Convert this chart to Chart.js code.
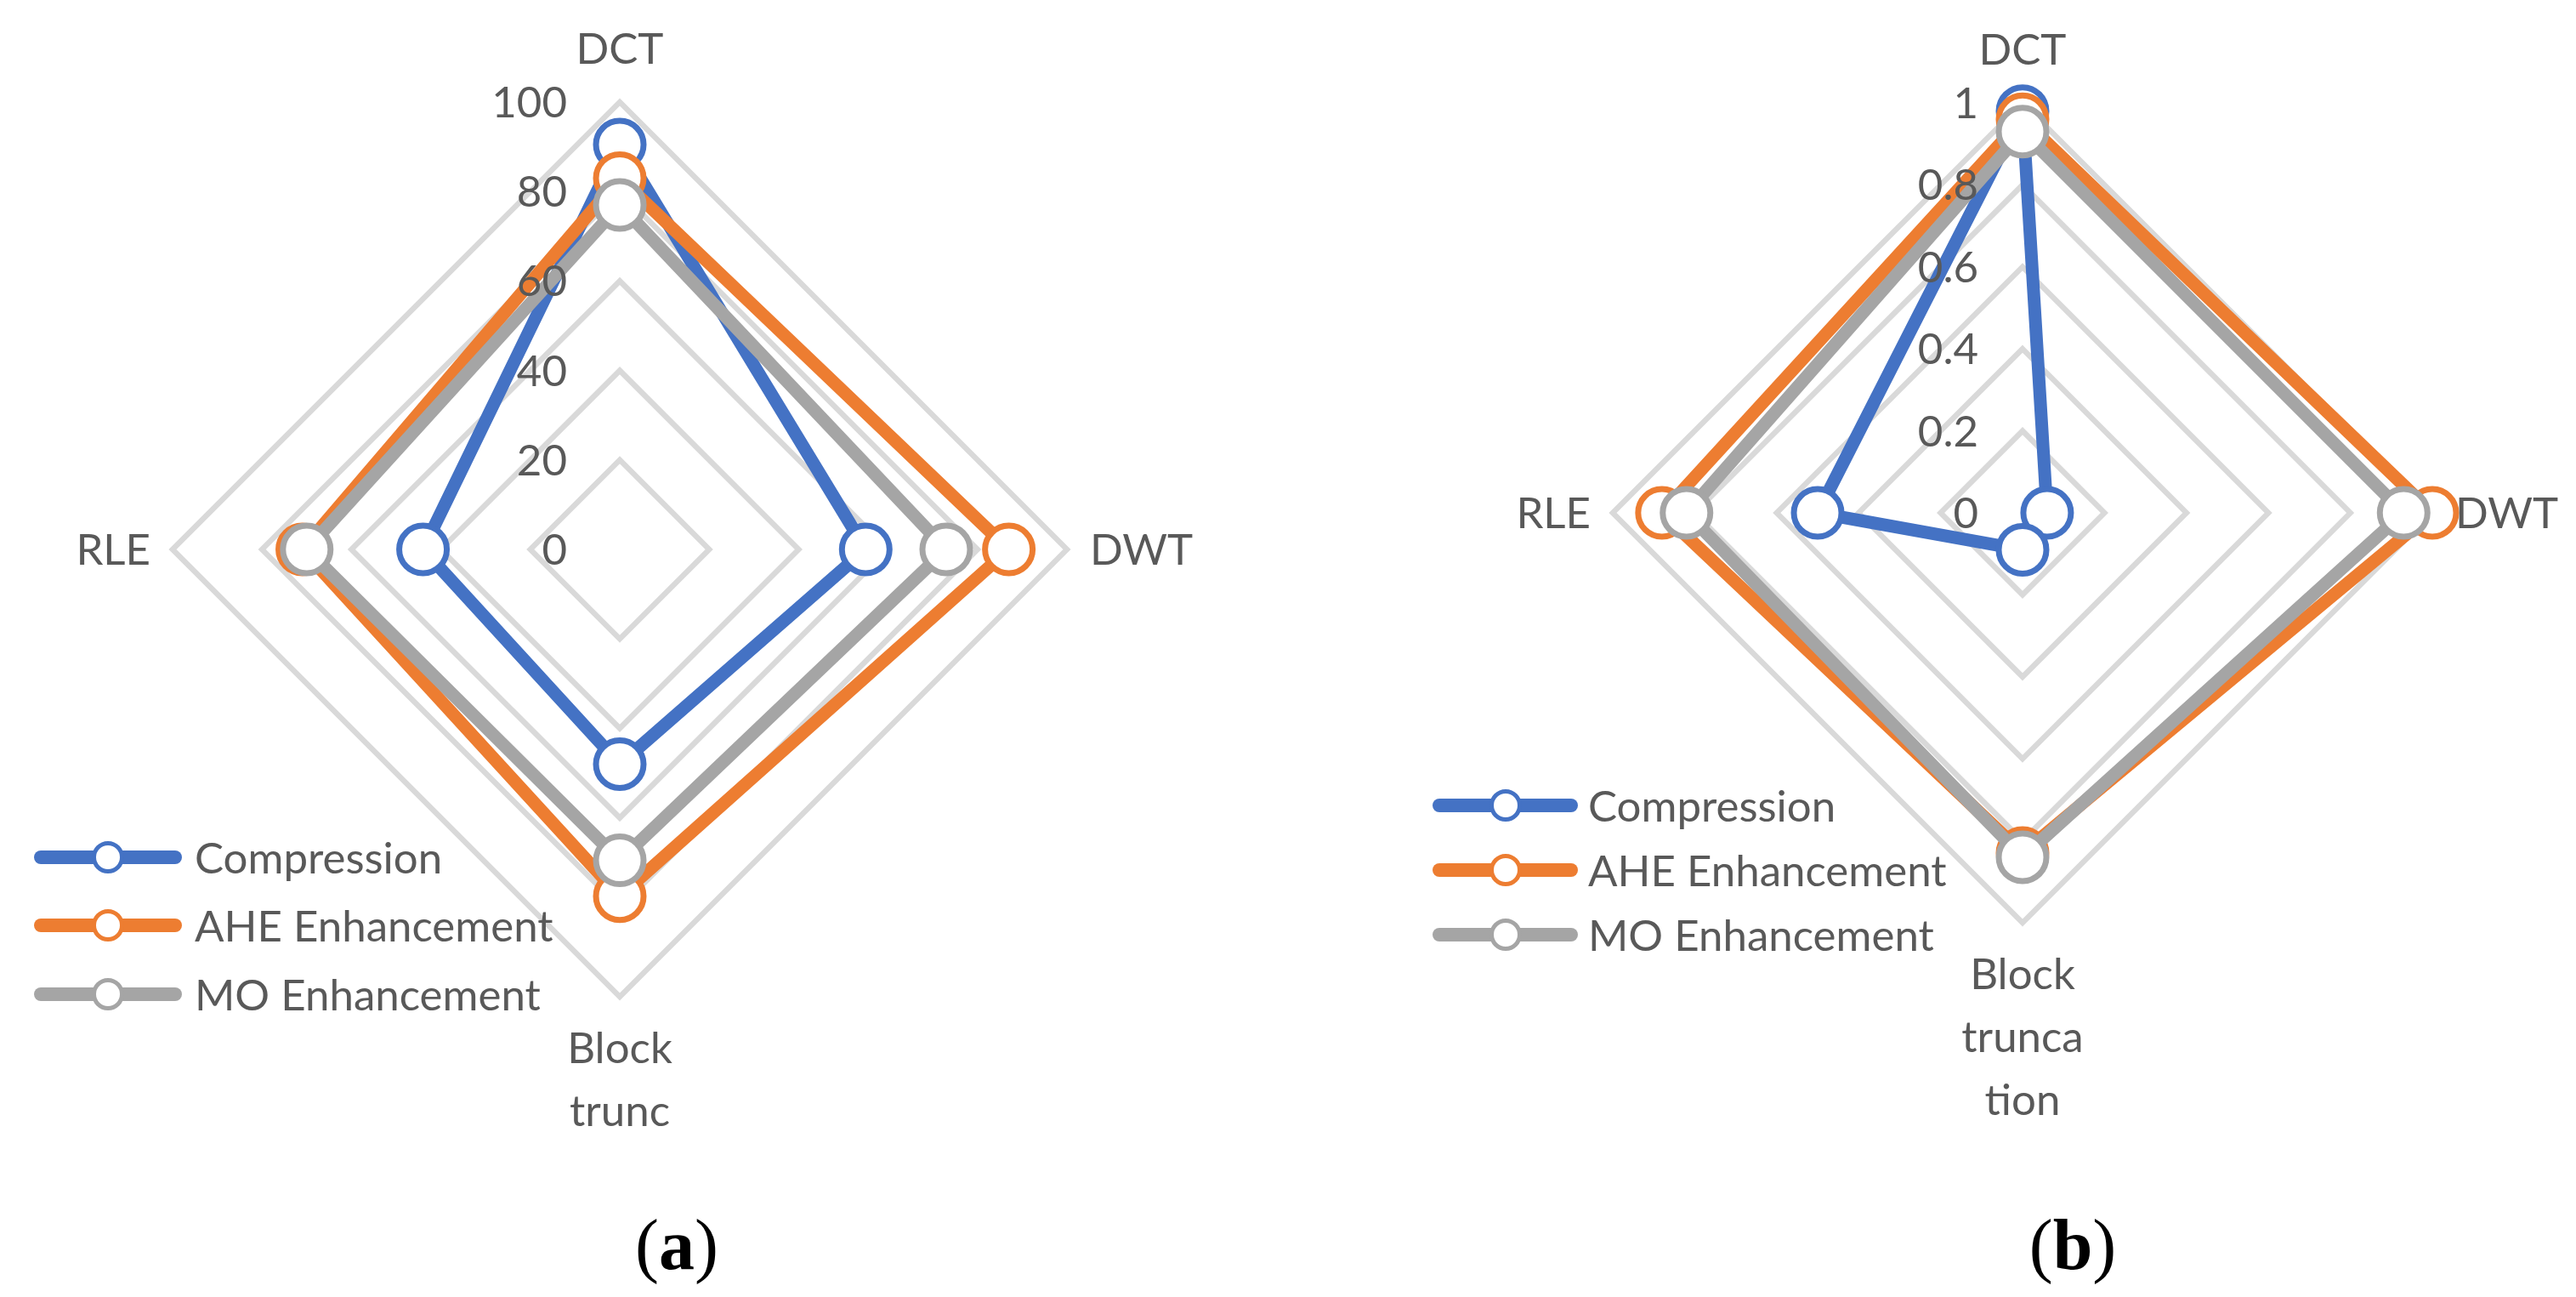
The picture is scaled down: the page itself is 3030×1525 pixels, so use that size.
<!DOCTYPE html>
<html>
<head>
<meta charset="utf-8">
<title>Radar charts</title>
<script src="https://cdn.jsdelivr.net/npm/chart.js@4.4.1/dist/chart.umd.min.js"></script>
<style>
  html, body { margin: 0; padding: 0; background: #fff; }
  #page { position: relative; width: 3030px; height: 1525px; overflow: hidden; font-family: Lato, 'Open Sans', sans-serif; color: #595959; }
  .panel { position: absolute; top: 0; width: 1515px; height: 1525px; }
  .panel canvas { position: absolute; left: 0; top: 0; }
  .legend { position: absolute; left: 0; top: 0; }
  .legend-row { position: absolute; height: 40px; display: flex; align-items: center; white-space: nowrap; font-size: 51px; line-height: 40px; }
  .swatch { position: relative; height: 40px; flex: none; }
  .swatch .ln { position: absolute; left: 0; right: 0; top: 12px; height: 16px; border-radius: 8px; }
  .swatch .mk { position: absolute; top: 1px; width: 28px; height: 28px; border: 5px solid; border-radius: 50%; background: #fff; }
  .caption { position: absolute; font-family: 'Liberation Serif', 'Times New Roman', serif; font-size: 84px; color: #000; transform: translate(-50%, -50%); white-space: nowrap; }
</style>
</head>
<body>
<div id="page">
  <div class="panel" id="panel-a" style="left:0"><canvas id="chart-a" width="1515" height="1525"></canvas></div>
  <div class="panel" id="panel-b" style="left:1515px"><canvas id="chart-b" width="1515" height="1525"></canvas></div>
  <div class="caption" style="left:796px; top:1463px">(<b>a</b>)</div>
  <div class="caption" style="left:2438px; top:1463px">(<b>b</b>)</div>
</div>

<script>
// ---- Data ----
const seriesNames = ['Compression', 'AHE Enhancement', 'MO Enhancement'];
const seriesColors = ['#4472C4', '#ED7D31', '#A5A5A5'];

// (a) échelle 0-100
const categoriesA = ['DCT', 'DWT', ['Block', 'trunc'], 'RLE'];
const compressionA = [90.5, 55, 48, 44];
const aheA = [83, 87, 77.5, 71];
const moA = [77, 73, 69.5, 70];
const ticksA = [0, 20, 40, 60, 80, 100];

// (b) échelle 0-1
const categoriesB = ['DCT', 'DWT', ['Block', 'trunca', 'tion'], 'RLE'];
const compressionB = [0.98, 0.06, 0.09, 0.50];
const aheB = [0.96, 1.00, 0.83, 0.88];
const moB = [0.93, 0.93, 0.84, 0.82];
const ticksB = [0, 0.2, 0.4, 0.6, 0.8, 1];

const TEXT = '#595959';
const GRID = '#D9D9D9';
const FONT = '51px Lato, "Open Sans", sans-serif';
const CAP = 18; // demi-hauteur des capitales

// ---- Libellés des axes et graduations (dessinés via l'échelle r) ----
const radarText = {
  id: 'radarText',
  afterDatasetsDraw(chart, args, opts) {
    const r = chart.scales.r;
    const ctx = chart.ctx;
    ctx.save();
    ctx.fillStyle = TEXT;
    ctx.font = FONT;
    ctx.textBaseline = 'alphabetic';

    // graduations
    ctx.textAlign = 'right';
    r.ticks.forEach(t => {
      const y = r.yCenter - r.getDistanceFromCenterForValue(t.value);
      ctx.fillText(String(t.value), r.xCenter - opts.tickGap, y + CAP);
    });

    // catégories
    chart.data.labels.forEach((lbl, i) => {
      const p = r.getPointPosition(i, r.drawingArea);
      const dx = p.x - r.xCenter;
      const dy = p.y - r.yCenter;
      const lines = [].concat(lbl);
      if (Math.abs(dx) < 1 && dy < 0) {
        ctx.textAlign = 'center';
        ctx.fillText(lines[0], p.x, p.y - 63 + CAP);
      } else if (Math.abs(dx) < 1) {
        ctx.textAlign = 'center';
        lines.forEach((s, k) => ctx.fillText(s, p.x, p.y + 60 + k * 74 + CAP));
      } else if (dx > 0) {
        ctx.textAlign = 'left';
        ctx.fillText(lines[0], p.x + 27, p.y + CAP);
      } else {
        ctx.textAlign = 'right';
        ctx.fillText(lines[0], p.x - 26, p.y + CAP);
      }
    });
    ctx.restore();
  }
};

function makeDatasets(values) {
  return values.map((v, i) => ({
    label: seriesNames[i],
    data: v,
    borderColor: seriesColors[i],
    borderWidth: 15,
    borderJoinStyle: 'round',
    backgroundColor: 'transparent',
    fill: false,
    pointRadius: 28,
    pointHoverRadius: 28,
    pointBorderWidth: 7,
    pointBorderColor: seriesColors[i],
    pointBackgroundColor: '#fff',
    order: values.length - i,
    clip: false
  }));
}

function makeChart(id, labels, values, tickValues, max, padding, tickGap) {
  return new Chart(document.getElementById(id), {
    type: 'radar',
    data: { labels, datasets: makeDatasets(values) },
    options: {
      responsive: false,
      animation: false,
      events: [],
      layout: { padding },
      plugins: {
        legend: { display: false },
        tooltip: { enabled: false },
        radarText: { tickGap }
      },
      scales: {
        r: {
          min: 0,
          max,
          afterBuildTicks: s => { s.ticks = tickValues.map(v => ({ value: v })); },
          ticks: { display: false },
          grid: { circular: false, color: GRID, lineWidth: 6.5 },
          angleLines: { display: false },
          pointLabels: { display: false }
        }
      }
    },
    plugins: [radarText]
  });
}

// ---- Légendes HTML ----
function renderLegend(panelId, x, rows, lineW, textGap) {
  const box = document.createElement('div');
  box.className = 'legend';
  box.innerHTML = seriesNames.map((name, i) => `
    <div class="legend-row" style="left:${x}px; top:${rows[i] - 20}px">
      <div class="swatch" style="width:${lineW}px; margin-right:${textGap}px">
        <div class="ln" style="background:${seriesColors[i]}"></div>
        <div class="mk" style="left:${lineW / 2 - 19}px; border-color:${seriesColors[i]}"></div>
      </div>
      <span>${name}</span>
    </div>
  `).join('');
  document.getElementById(panelId).appendChild(box);
}

makeChart('chart-a', categoriesA, [compressionA, aheA, moA], ticksA, 100,
  { left: 203, top: 120, right: 260, bottom: 353 }, 62);
makeChart('chart-b', categoriesB, [compressionB, aheB, moB], ticksB, 1,
  { left: 382, top: 121, right: 169, bottom: 440 }, 52);

renderLegend('panel-a', 40, [1008, 1088, 1169], 174, 15);
renderLegend('panel-b', 170, [947, 1023, 1099], 171, 12);
</script>
</body>
</html>
